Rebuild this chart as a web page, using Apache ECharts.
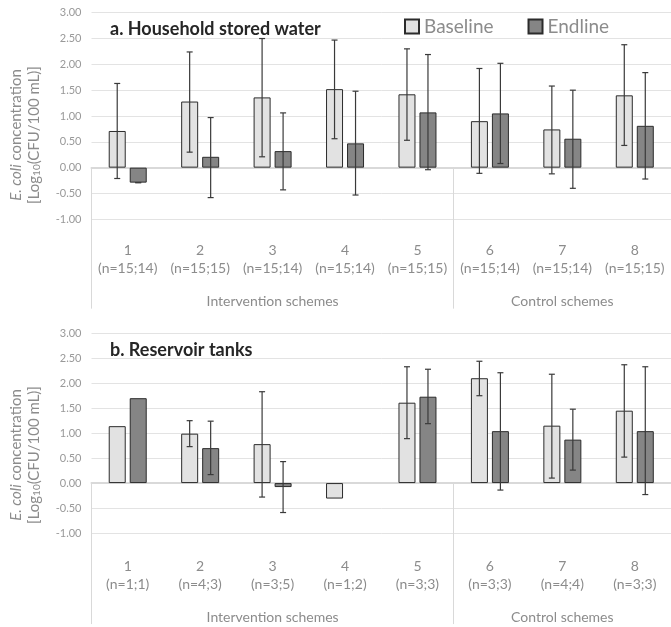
<!DOCTYPE html>
<html>
<head>
<meta charset="utf-8">
<script src="https://cdn.jsdelivr.net/npm/echarts@6/dist/echarts.min.js"></script>
<style>
html,body{margin:0;padding:0;background:#fff;}
#chart{width:671px;height:627px;}
</style>
</head>
<body>
<div id="chart"></div>
<script>
// ---- data ----
const categories = ['1', '2', '3', '4', '5', '6', '7', '8'];
const nTop = ['n=15;14', 'n=15;15', 'n=15;14', 'n=15;14', 'n=15;15', 'n=15;14', 'n=15;14', 'n=15;15'];
const nBottom = ['n=1;1', 'n=4;3', 'n=3;5', 'n=1;2', 'n=3;3', 'n=3;3', 'n=4;4', 'n=3;3'];
const groupNames = ['Intervention schemes', 'Control schemes'];
const groupSizes = [5, 3];
const seriesNames = ['Baseline', 'Endline'];
const yTicks = [-1, -0.5, 0, 0.5, 1, 1.5, 2, 2.5, 3];

// a. Household stored water
const topBaseline     = [0.71, 1.28, 1.36, 1.52, 1.42, 0.90, 0.74, 1.40];
const topBaselineLow  = [-0.21, 0.30, 0.21, 0.56, 0.53, -0.11, -0.12, 0.43];
const topBaselineHigh = [1.63, 2.24, 2.50, 2.47, 2.30, 1.92, 1.58, 2.38];
const topEndline      = [-0.29, 0.21, 0.32, 0.47, 1.07, 1.05, 0.56, 0.81];
const topEndlineLow   = [-0.29, -0.58, -0.43, -0.53, -0.04, 0.08, -0.40, -0.22];
const topEndlineHigh  = [-0.29, 0.97, 1.06, 1.48, 2.19, 2.02, 1.50, 1.84];

// b. Reservoir tanks
const botBaseline     = [1.14, 0.99, 0.78, -0.31, 1.61, 2.10, 1.15, 1.45];
const botBaselineLow  = [null, 0.73, -0.28, null, 0.89, 1.75, 0.10, 0.52];
const botBaselineHigh = [null, 1.25, 1.83, null, 2.33, 2.44, 2.18, 2.37];
const botEndline      = [1.70, 0.70, -0.08, null, 1.73, 1.04, 0.87, 1.04];
const botEndlineLow   = [null, 0.17, -0.59, null, 1.19, -0.14, 0.26, -0.23];
const botEndlineHigh  = [null, 1.24, 0.43, null, 2.28, 2.21, 1.48, 2.33];

// ---- styling ----
const FONT = 'Lato';
const GRAY = '#8c8c8c';
const BAR_W = 17;
const BAR_GAP_PX = 4;
const FILL = ['#e2e2e2', '#858585'];
const grids = [
  { left: 91.5, right: -7, top: 12.7, height: 206.6 },
  { left: 91.5, right: -7, top: 333.3, height: 206.4 }
];

// category index where each group starts
const groupStarts = [];
groupSizes.reduce((acc, s) => { groupStarts.push(acc); return acc + s; }, 0);
// group label sits on the middle category of each group
const groupLabelAxis = categories.map(() => '');
{
  let acc = 0;
  groupSizes.forEach((s, g) => {
    groupLabelAxis[Math.floor(acc + (s - 1) / 2)] = groupNames[g];
    acc += s;
  });
}

function makeXAxes(gi, nLabels, extra) {
  return [
    { // zero line + group separators
      type: 'category', gridIndex: gi, data: categories, position: 'bottom',
      axisLine: { onZero: true, lineStyle: { color: '#d9d9d9', width: 2 } },
      axisTick: { show: true, length: 141, lineStyle: { color: '#d9d9d9', width: 1 },
        interval: (i) => groupStarts.indexOf(i) >= 0 },
      axisLabel: { show: false }, splitLine: { show: false }
    },
    { // category labels
      type: 'category', gridIndex: gi, data: categories.map((c, i) => c + '\n(' + nLabels[i] + ')'),
      position: 'bottom', axisLine: { show: false, onZero: false }, axisTick: { show: false },
      axisLabel: { interval: 0, margin: 22 + extra, fontFamily: FONT, fontSize: 14, lineHeight: 18, color: GRAY, align: 'center' }
    },
    { // group labels
      type: 'category', gridIndex: gi, data: groupLabelAxis,
      position: 'bottom', axisLine: { show: false, onZero: false }, axisTick: { show: false },
      axisLabel: { interval: 0, margin: 72 + extra, fontFamily: FONT, fontSize: 14, lineHeight: 20, color: GRAY, hideOverlap: false }
    }
  ];
}

function makeYAxis(gi) {
  return {
    type: 'value', gridIndex: gi, min: yTicks[0], max: yTicks[yTicks.length - 1], interval: 0.5,
    axisLine: { show: false }, axisTick: { show: false },
    axisLabel: { formatter: (v) => v.toFixed(2), fontFamily: FONT, fontSize: 11, color: '#999999', margin: 10 },
    splitLine: { lineStyle: { color: '#e3e3e3', width: 1 } }
  };
}

function barSeries(gi, si, values) {
  return {
    name: seriesNames[si], type: 'bar', xAxisIndex: gi * 3, yAxisIndex: gi,
    data: values, barWidth: BAR_W, barGap: (BAR_GAP_PX / BAR_W * 100) + '%',
    itemStyle: { color: FILL[si], borderColor: '#2b2b2b', borderWidth: 1 },
    z: 2
  };
}

function errSeries(gi, si, lows, highs) {
  const side = si === 0 ? -1 : 1;
  return {
    name: seriesNames[si] + ' error', type: 'custom', xAxisIndex: gi * 3, yAxisIndex: gi,
    data: categories.map((c, i) => [i, lows[i], highs[i]]).filter(d => d[1] !== null),
    encode: { x: 0, y: [1, 2] },
    z: 5, silent: true,
    renderItem: function (params, api) {
      const i = api.value(0);
      const lo = api.coord([i, api.value(1)]);
      const hi = api.coord([i, api.value(2)]);
      const x = lo[0] + side * (BAR_W + BAR_GAP_PX) / 2;
      const cap = 3;
      const st = { stroke: '#3a3a3a', lineWidth: 1.2 };
      return {
        type: 'group',
        children: [
          { type: 'line', shape: { x1: x, y1: lo[1], x2: x, y2: hi[1] }, style: st },
          { type: 'line', shape: { x1: x - cap, y1: hi[1], x2: x + cap, y2: hi[1] }, style: st },
          { type: 'line', shape: { x1: x - cap, y1: lo[1], x2: x + cap, y2: lo[1] }, style: st }
        ]
      };
    }
  };
}

const yTitleRich = {
  i: { fontStyle: 'italic', fontFamily: FONT, fontSize: 15, color: GRAY },
  s: { fontFamily: FONT, fontSize: 10, color: GRAY, verticalAlign: 'bottom', lineHeight: 10, padding: [6, 0, 0, 0] }
};
function yTitle(cy) {
  return [
    { type: 'text', x: 16, y: cy, rotation: Math.PI / 2,
      style: { text: '{i|E. coli} concentration', rich: yTitleRich, fontFamily: FONT, fontSize: 15, fill: GRAY, align: 'center', verticalAlign: 'middle' } },
    { type: 'text', x: 34, y: cy, rotation: Math.PI / 2,
      style: { text: '[Log{s|10}(CFU/100 mL)]', rich: yTitleRich, fontFamily: FONT, fontSize: 15, fill: GRAY, align: 'center', verticalAlign: 'middle' } }
  ];
}

const option = {
  animation: false,
  backgroundColor: '#ffffff',
  title: [
    { text: 'a. Household stored water', left: 110, top: 20, padding: 0,
      textStyle: { fontFamily: FONT, fontWeight: 'bold', fontSize: 18, color: '#262626' } },
    { text: 'b. Reservoir tanks', left: 110, top: 341, padding: 0,
      textStyle: { fontFamily: FONT, fontWeight: 'bold', fontSize: 18, color: '#262626' } }
  ],
  legend: {
    data: seriesNames, left: 404, top: 17, padding: 0,
    itemWidth: 14, itemHeight: 14, itemGap: 34, icon: 'rect',
    textStyle: { fontFamily: FONT, fontSize: 19, color: GRAY }
  },
  grid: grids,
  xAxis: [].concat(makeXAxes(0, nTop, 0), makeXAxes(1, nBottom, 2)),
  yAxis: [makeYAxis(0), makeYAxis(1)],
  graphic: [].concat(yTitle(135), yTitle(455)),
  series: [
    barSeries(0, 0, topBaseline),
    barSeries(0, 1, topEndline),
    errSeries(0, 0, topBaselineLow, topBaselineHigh),
    errSeries(0, 1, topEndlineLow, topEndlineHigh),
    barSeries(1, 0, botBaseline),
    barSeries(1, 1, botEndline),
    errSeries(1, 0, botBaselineLow, botBaselineHigh),
    errSeries(1, 1, botEndlineLow, botEndlineHigh)
  ]
};

const chart = echarts.init(document.getElementById('chart'), null, { renderer: 'canvas' });
chart.setOption(option);
</script>
</body>
</html>
